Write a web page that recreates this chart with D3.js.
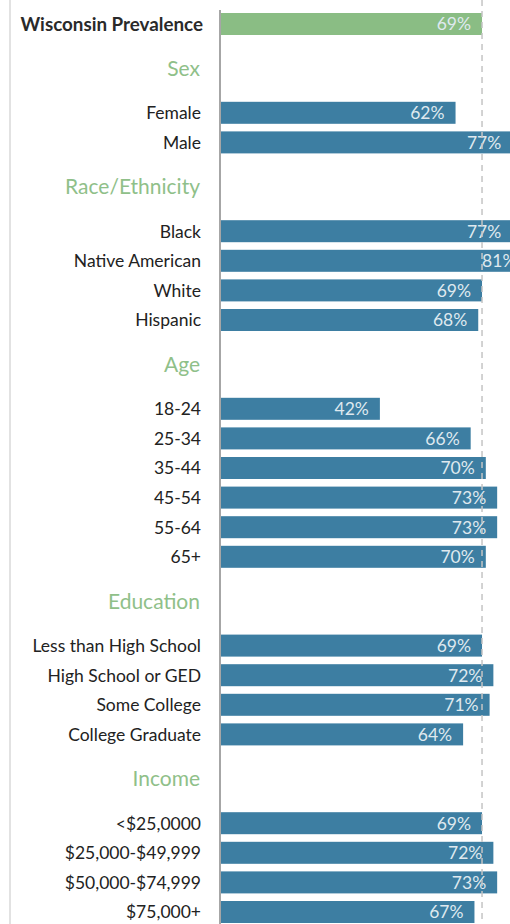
<!DOCTYPE html>
<html>
<head>
<meta charset="utf-8">
<script src="https://cdn.jsdelivr.net/npm/d3@7"></script>
<style>
  body { margin: 0; background: #fff; }
  svg { display: block; font-family: Lato, "Open Sans", sans-serif; }
</style>
</head>
<body>
<div id="chart"></div>
<script>
// overall value
var overallLabel = "Wisconsin Prevalence";
var overallValue = 69;

// groups
var groupNames = ["Sex", "Race/Ethnicity", "Age", "Education", "Income"];

var sexLabels = ["Female", "Male"];
var sexValues = [62, 77];

var raceLabels = ["Black", "Native American", "White", "Hispanic"];
var raceValues = [77, 81, 69, 68];

var ageLabels = ["18-24", "25-34", "35-44", "45-54", "55-64", "65+"];
var ageValues = [42, 66, 70, 73, 73, 70];

var eduLabels = ["Less than High School", "High School or GED", "Some College", "College Graduate"];
var eduValues = [69, 72, 71, 64];

var incomeLabels = ["<$25,0000", "$25,000-$49,999", "$50,000-$74,999", "$75,000+"];
var incomeValues = [69, 72, 73, 67];

var groupLabels = [sexLabels, raceLabels, ageLabels, eduLabels, incomeLabels];
var groupValues = [sexValues, raceValues, ageValues, eduValues, incomeValues];

var width = 510, height = 924;

// build row list (index = row slot)
var rows = [{ label: overallLabel, value: overallValue, idx: 0, overall: true }];
var headers = [];
var last = 0;
groupNames.forEach(function(g, gi) {
    headers.push({ label: g, idx: last + 1.5 });
    groupLabels[gi].forEach(function(lab, j) {
        rows.push({ label: lab, value: groupValues[gi][j], idx: last + 3 + j, overall: false });
    });
    last = last + 2 + groupLabels[gi].length;
});

var svg = d3.select("#chart")
    .append("svg")
    .attr("width", width)
    .attr("height", height);

var xScale = d3.scaleLinear()
    .domain([0, 100])
    .range([221, 221 + 378.3]);

var yScale = d3.scaleLinear()
    .domain([0, 30])
    .range([24, 912]);

var barH = 22;

// faint left border
svg.append("line")
    .attr("x1", 10).attr("x2", 10)
    .attr("y1", 0).attr("y2", height)
    .attr("stroke", "#e2e2e2")
    .attr("stroke-width", 2);

// bars
svg.selectAll("rect.bar")
    .data(rows)
    .enter()
    .append("rect")
    .attr("class", "bar")
    .attr("x", xScale(0))
    .attr("y", function(d) { return yScale(d.idx) - barH / 2; })
    .attr("width", function(d) { return xScale(d.value) - xScale(0); })
    .attr("height", barH)
    .attr("fill", function(d) { return d.overall ? "#8abd84" : "#3d7ea2"; });

// value labels
svg.selectAll("text.val")
    .data(rows)
    .enter()
    .append("text")
    .attr("class", "val")
    .attr("x", function(d) { return xScale(d.value) - 11; })
    .attr("y", function(d) { return yScale(d.idx); })
    .attr("dy", "0.36em")
    .attr("text-anchor", "end")
    .attr("font-size", 17.5)
    .attr("fill", "#dfe9ef")
    .text(function(d) { return d.value + "%"; });

// category labels
svg.selectAll("text.lab")
    .data(rows)
    .enter()
    .append("text")
    .attr("class", "lab")
    .attr("x", function(d) { return d.overall ? 203 : 201; })
    .attr("y", function(d) { return yScale(d.idx); })
    .attr("dy", "0.36em")
    .attr("text-anchor", "end")
    .attr("font-size", function(d) { return d.overall ? 18.8 : 17.5; })
    .attr("font-weight", function(d) { return d.overall ? "bold" : "normal"; })
    .attr("fill", function(d) { return d.overall ? "#2a2a2a" : "#222"; })
    .text(function(d) { return d.label; });

// group headers
svg.selectAll("text.head")
    .data(headers)
    .enter()
    .append("text")
    .attr("class", "head")
    .attr("x", 200)
    .attr("y", function(d) { return yScale(d.idx); })
    .attr("dy", "0.36em")
    .attr("text-anchor", "end")
    .attr("font-size", 21)
    .attr("fill", "#8fc089")
    .text(function(d) { return d.label; });

// baseline axis
svg.append("line")
    .attr("x1", 220).attr("x2", 220)
    .attr("y1", 10).attr("y2", height)
    .attr("stroke", "#888")
    .attr("stroke-width", 1.5);

// state prevalence reference line
svg.append("line")
    .attr("x1", xScale(overallValue)).attr("x2", xScale(overallValue))
    .attr("y1", 0).attr("y2", height)
    .attr("stroke", "#c4c4c4")
    .attr("stroke-width", 1.5)
    .attr("stroke-dasharray", "6,5");
</script>
</body>
</html>
